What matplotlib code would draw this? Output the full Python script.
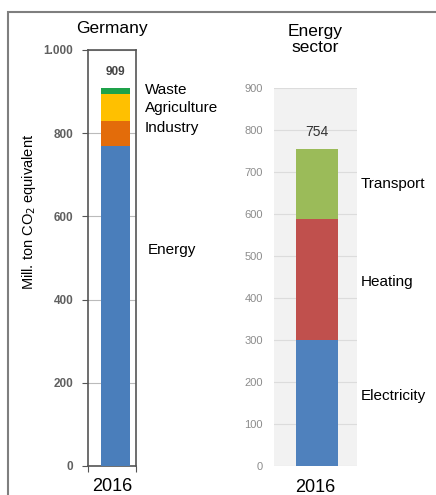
import matplotlib
matplotlib.use("Agg")
import matplotlib.pyplot as plt
from matplotlib.patches import Rectangle

plt.rcParams['font.family'] = ['Liberation Sans', 'DejaVu Sans']

# Germany total, by source (Mill. ton CO2 eq.)
de_sources = ["Energy", "Industry", "Agriculture", "Waste"]
de_values = [770, 60, 65, 14]
de_colors = ["#4a7ebb", "#e36c0a", "#ffc000", "#1ea24a"]
de_total = 909

# energy sector split
en_sectors = ["Electricity", "Heating", "Transport"]
en_values = [300, 288, 166]
en_colors = ["#4f81bd", "#c0504d", "#9bbb59"]
en_total = 754

year = "2016"

fig = plt.figure(figsize=(4.36, 4.95), dpi=100)

# outer frame
fig.patches.append(Rectangle((8/436, -0.1), 1.2, 0.1 + 1 - 12/495, transform=fig.transFigure,
                             fill=False, edgecolor="#7f7f7f", lw=1.5))

# ---- left panel: Germany
ax1 = fig.add_axes([88/436, 1 - 466/495, 48/436, 416/495])
bottom = 0
for v, c in zip(de_values, de_colors):
    ax1.bar(0.07, v, width=0.6, bottom=bottom, color=c, zorder=3)
    bottom += v
ax1.set_xlim(-0.5, 0.5)
ax1.set_ylim(0, 1000)
ax1.set_yticks([0, 200, 400, 600, 800, 1000])
ax1.set_yticklabels(["0", "200", "400", "600", "800", "1.000"])
ax1.grid(axis="y", color="#bbbbbb", lw=0.8, zorder=0)
for s in ax1.spines.values():
    s.set_color("#555555")
    s.set_linewidth(1.2)
ax1.tick_params(axis="y", direction="out", length=4.5, color="#555555",
                labelsize=8.5, labelcolor="#606060", pad=6)
ax1.set_xticks([-0.5, 0.5])
ax1.set_xticklabels([])
ax1.tick_params(axis="x", direction="out", length=4, color="#555555")
ax1.text(0.0, -30, year, ha="center", va="top", fontsize=13)
for lbl in ax1.get_yticklabels():
    lbl.set_fontweight("bold")
ax1.text(0.07, de_total + 38, str(de_total), ha="center", va="center",
         fontsize=8.5, color="#444444", fontweight="bold")
ax1.set_title("Germany", fontsize=12.5, pad=12)
ax1.set_ylabel("Mill. ton CO$_2$ equivalent", fontsize=10.5)
ax1.yaxis.set_label_coords(-1.04, 0.61)

de_label_y = [519, 812, 860, 904]
for name, ly in zip(de_sources, de_label_y):
    ax1.text(0.69 if name != "Energy" else 0.75, ly, name, ha="left", va="center",
             fontsize=11, clip_on=False)

# ---- right panel: energy sector
ax2 = fig.add_axes([274/436, 1 - 466/495, 83/436, 378/495])
ax2.set_facecolor("#f2f2f2")
bottom = 0
for v, c in zip(en_values, en_colors):
    ax2.bar(0.02, v, width=0.5, bottom=bottom, color=c, zorder=3)
    bottom += v
ax2.set_xlim(-0.5, 0.5)
ax2.set_ylim(0, 900)
ax2.set_yticks(range(0, 901, 100))
ax2.grid(axis="y", color="#dcdcdc", lw=0.8, zorder=0)
for s in ax2.spines.values():
    s.set_visible(False)
ax2.tick_params(axis="y", length=0, labelsize=8, labelcolor="#8c8c8c", pad=8)
ax2.set_xticks([])
ax2.text(0.0, -30, year, ha="center", va="top", fontsize=13)
ax2.text(0.02, en_total + 41, str(en_total), ha="center", va="center",
         fontsize=10, color="#333333")
ax2.set_title("Energy\nsector", fontsize=12.5, pad=26, linespacing=1.05)

en_label_y = [167, 438, 671]
for name, ly in zip(en_sectors, en_label_y):
    ax2.text(0.548, ly, name, ha="left", va="center", fontsize=11, clip_on=False)

fig.savefig("out.png", dpi=100)
